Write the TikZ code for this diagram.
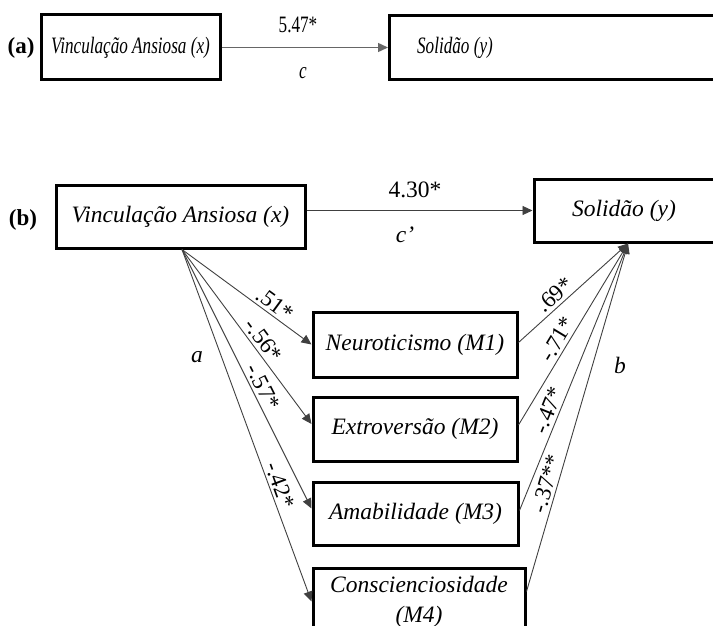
\documentclass[tikz,border=0pt]{standalone}
\usepackage{fontspec}
\setmainfont{Liberation Serif}
\usetikzlibrary{arrows.meta}

\begin{document}
\begin{tikzpicture}[
        x=1pt, y=-1pt,
        every node/.style={font=\fontsize{23.5}{30}\selectfont},
        box/.style={draw, line width=3pt, inner sep=0pt, font=\fontsize{23.5}{30}\selectfont\itshape},
        tag/.style={font=\fontsize{23}{30}\selectfont\bfseries},
        link/.style={draw=black!75, line width=0.9pt, -{Triangle[length=10pt,width=9pt]}},
        coef/.style={sloped, above, inner sep=3pt, font=\fontsize{23}{26}\selectfont}
    ]
    \useasboundingbox (0,0) rectangle (713,626);
    \clip (0,0) rectangle (713,626);

    % (a) total effect
    \node[tag] (labA) at (21,48) {(a)};
    \node[box, minimum width=179pt, minimum height=65pt] (vinA) at (130.5,47.5) {\scalebox{0.73}[1]{Vinculação Ansiosa (x)}};
    \node[box, anchor=west, minimum width=360pt, minimum height=64pt] (solA) at (388,48) {};
    \node[font=\fontsize{23.5}{30}\selectfont\itshape] (solAtxt) at (455,48) {\scalebox{0.73}[1]{Solidão (y)}};
    \draw[link, draw=black!60, line width=1.4pt] (vinA.east) -- (vinA.east -| solA.west);
    \node (cA) at (298,25) {\scalebox{0.73}[1]{5.47*}};
    \node[font=\fontsize{23.5}{30}\selectfont\itshape] (pathc) at (303,73) {\scalebox{0.73}[1]{c}};

    % (b) mediation model
    \node[tag] (labB) at (23,220) {(b)};
    \node[box, minimum width=249pt, minimum height=63pt] (vinB) at (180.5,216.5) {Vinculação Ansiosa (x)};
    \node[box, minimum width=180pt, minimum height=63pt] (solB) at (624,210.5) {Solidão (y)};
    \draw[link] (vinB.east |- solB.west) -- (solB.west);
    \node (cB) at (415,190) {4.30*};
    \node[font=\fontsize{23.5}{30}\selectfont\itshape] (pathcp) at (405,235) {c’};

    \node[box, minimum width=204pt, minimum height=65pt] (neu) at (415,344.5) {Neuroticismo (M1)};
    \node[box, minimum width=204pt, minimum height=64pt] (ext) at (415,429) {Extroversão (M2)};
    \node[box, minimum width=205pt, minimum height=63pt] (ama) at (415.5,513.5) {Amabilidade (M3)};
    \node[box, minimum width=212pt, minimum height=66pt, align=center, anchor=north] (con) at (419,567) {Conscienciosidade\\(M4)};

    \coordinate (src) at ([xshift=1.5pt]vinB.south);
    \coordinate (dst) at ([xshift=4pt]solB.south);

    % paths a
    \draw[link] (src) -- node[coef, pos=0.67] {.51*} (neu.west);
    \draw[link] (src) -- node[coef, pos=0.56] {-.56*} ([yshift=5pt]ext.west);
    \draw[link] (src) -- node[coef, pos=0.55] {-.57*} ([yshift=5pt]ama.west);
    \draw[link] (src) -- node[coef, pos=0.68] {-.42*} (con.west);

    % paths b
    \draw[link] ([yshift=2pt]neu.east) -- node[coef, pos=0.4] {.69*} (dst);
    \draw[link] ([yshift=4pt]ext.east) -- node[coef, pos=0.44] {-.71*} (dst);
    \draw[link] ([yshift=3pt]ama.east) -- node[coef, pos=0.36] {-.47*} (dst);
    \draw[link] ([yshift=10pt]con.east) -- node[coef, pos=0.3] {-.37**} (dst);

    \node[font=\fontsize{23.5}{30}\selectfont\itshape] (pa) at (197,357) {a};
    \node[font=\fontsize{23.5}{30}\selectfont\itshape] (pb) at (620,365) {b};
\end{tikzpicture}
\end{document}
